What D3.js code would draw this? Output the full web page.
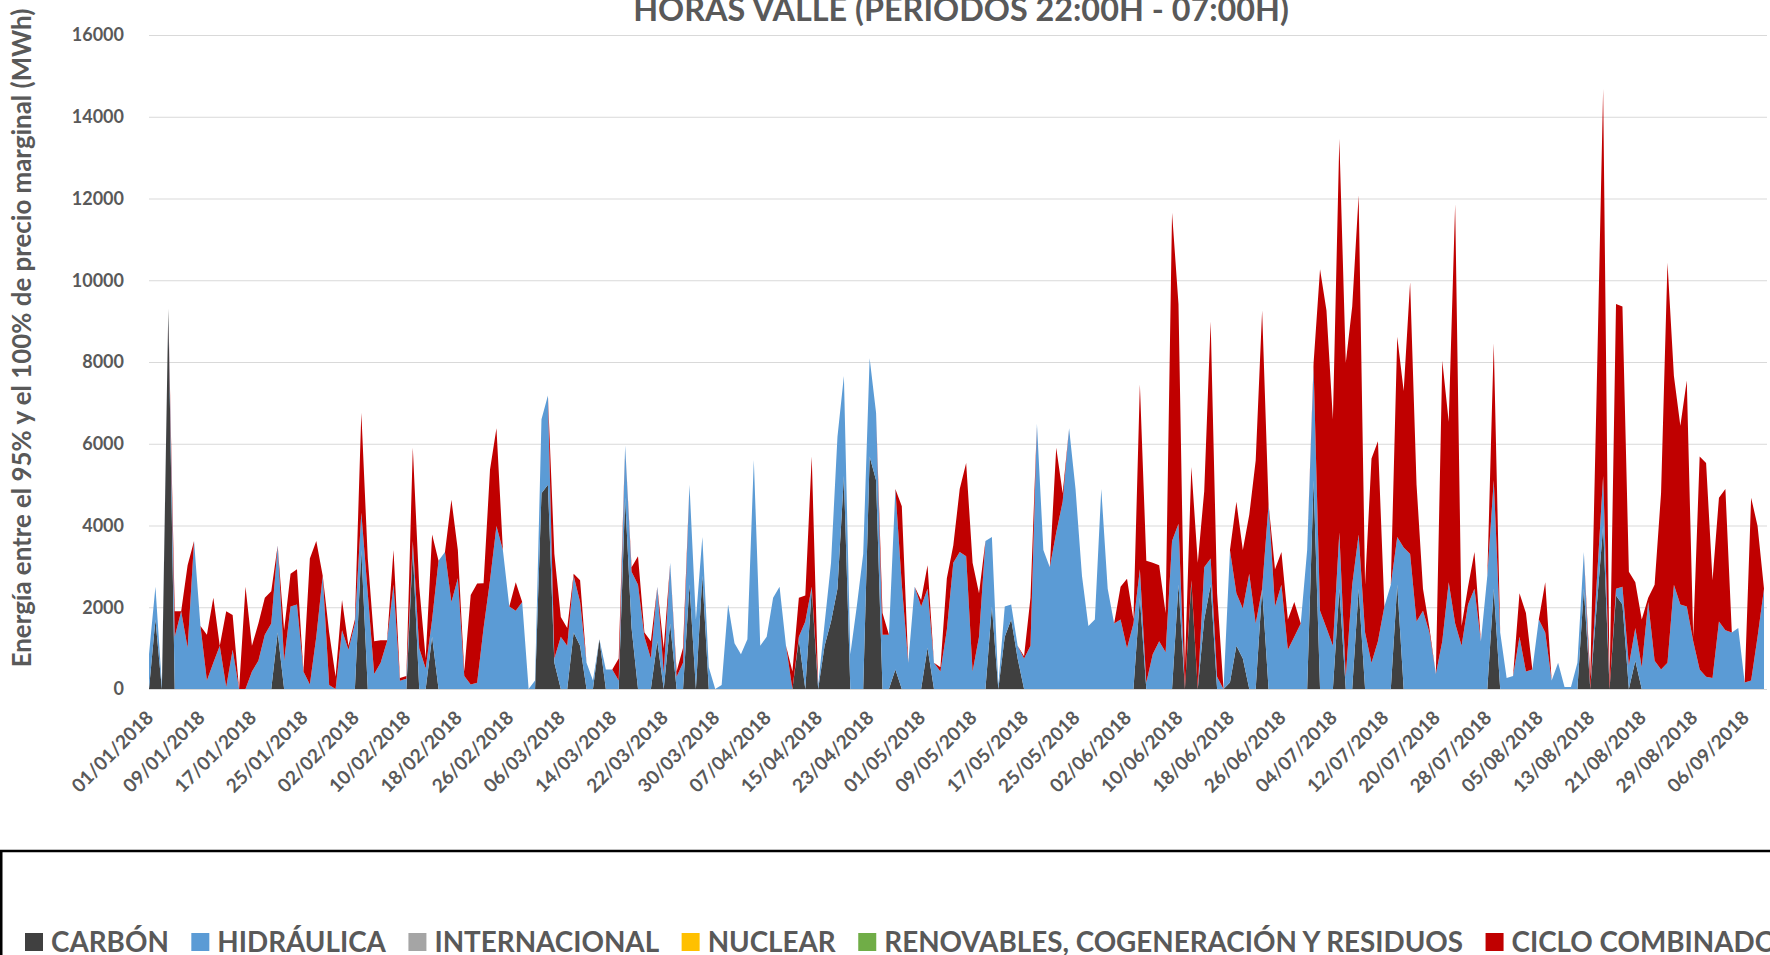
<!DOCTYPE html>
<html>
<head>
<meta charset="utf-8">
<script src="https://cdn.jsdelivr.net/npm/d3@7"></script>
<style>
	body { margin: 0; background: #fff; }
	svg text { font-family: Lato, 'Open Sans', sans-serif; font-weight: bold; fill: #595959; }
</style>
</head>
<body>
<svg class="chart" width="1770" height="955"></svg>
<script>
// daily values (MWh), 01/01/2018 onwards
var carbon = [
	0,1700,0,9300,0,0,0,0,0,0,
	0,0,0,0,0,0,0,0,0,0,
	1380,0,0,0,0,0,0,0,0,0,
	0,0,0,3400,0,0,0,0,0,0,
	0,3400,0,0,1280,0,0,0,0,0,
	0,0,0,0,0,0,0,0,0,0,
	0,4790,5000,640,0,0,1380,1060,0,0,
	1220,0,0,0,4680,1490,0,0,0,1170,
	0,1600,0,0,2550,0,2770,0,0,0,
	0,0,0,0,0,0,0,0,0,0,
	0,1220,0,2450,0,1060,1650,2450,5210,0,
	0,0,5690,5110,0,0,480,0,0,0,
	0,1010,0,0,0,0,0,0,0,0,
	0,2020,0,1280,1700,745,0,0,0,0,
	0,0,0,0,0,0,0,0,0,0,
	0,0,0,0,2230,0,0,0,0,0,
	2550,0,2610,0,1700,2550,0,0,160,1060,
	745,0,0,2450,0,0,0,0,0,0,
	0,5110,0,0,0,2450,0,0,2450,0,
	0,0,0,0,2550,0,0,0,0,0,
	0,0,0,0,0,0,0,0,0,2450,
	0,0,0,0,0,0,0,0,0,0,
	0,0,0,2450,0,2020,3990,0,2290,2070,
	0,690,0,0,0,0,0,0,0,0,
	0,0,0,0,0,0,0,0,0,0,
	0,0
];
var hidraulica = [
	850,800,100,0,1280,1900,1010,3620,1540,210,
	640,1060,50,960,0,0,430,690,1330,1600,
	2130,690,2020,2070,430,110,1280,2770,100,0,
	1440,960,1600,910,2340,370,640,1170,2550,200,
	250,220,1000,500,420,3140,3350,2130,2710,320,
	110,150,1490,2660,3990,3400,2020,1915,2130,0,
	210,1810,2180,105,1280,1060,1390,1070,640,210,
	0,480,480,210,1280,1380,2550,1280,745,1330,
	400,1490,300,640,2450,1700,950,530,0,100,
	2070,1120,850,1220,5600,1060,1280,2230,2500,1060,
	0,60,1650,50,100,540,1440,3720,2450,850,
	2020,3300,2400,1650,1330,1330,4410,2550,640,2500,
	2020,1440,640,430,1450,3090,3350,3250,430,1280,
	3620,1700,100,740,370,315,745,1060,6490,3400,
	2980,3830,4580,6380,4890,2770,1540,1700,4890,2450,
	1600,1700,1000,1600,700,160,850,1170,900,3620,
	1490,0,50,0,1280,640,300,0,3240,1280,
	1225,2820,1600,0,4520,2020,2550,960,1280,1600,
	3400,2760,1915,1490,1060,1380,300,2550,1330,1380,
	640,1170,2020,2550,1170,3460,3300,1650,1915,1380,
	370,1170,2610,1600,1060,2070,2450,1170,2770,2660,
	1380,270,320,1280,430,480,1700,1380,210,640,
	50,50,640,900,0,580,1220,0,160,430,
	580,800,530,2130,690,480,640,2550,2070,2020,
	1170,480,300,270,1650,1440,1380,1490,160,210,
	1280,2450
];
var internacional = [];
var nuclear = [];
var renovables = [];
var cicloCombinado = [
	0,0,0,0,620,0,2020,0,0,1120,
	1590,0,1850,850,0,2500,630,910,900,790,
	0,750,800,860,0,3080,2340,0,1280,300,
	740,100,100,2450,860,800,550,20,850,70,
	70,2280,1500,250,2080,0,0,2500,690,110,
	2190,2430,1100,2710,2390,0,0,695,0,0,
	0,0,0,2555,480,430,50,530,0,0,
	0,0,0,535,0,110,700,100,425,0,
	600,0,130,370,0,0,0,0,0,0,
	0,0,0,0,0,0,0,0,0,0,
	430,950,640,3190,0,0,0,0,0,0,
	0,0,0,0,530,0,0,1920,0,0,
	160,580,0,100,1260,420,1540,2280,2660,1060,
	0,0,0,0,0,0,55,1170,0,0,
	0,2070,210,0,0,0,0,0,0,0,
	0,800,1700,100,4520,2980,2240,1860,960,8030,
	5380,530,2770,3090,1860,5800,2040,0,0,2240,
	1430,1440,3990,6810,0,910,800,740,850,0,
	0,110,8355,7770,5540,9630,7680,6810,8300,1170,
	5000,4890,0,0,4900,3830,6650,3350,535,110,
	0,6860,3930,10260,480,430,900,0,0,3350,
	0,0,0,1060,1430,0,0,1230,0,0,
	0,0,0,0,300,4740,9470,100,6970,6860,
	2290,1120,1170,100,1860,4310,9790,5110,4370,5530,
	110,5210,5230,2390,3030,3450,0,0,0,4470,
	2710,0
];

var seriesKeys   = ['carbon','hidraulica','internacional','nuclear','renovables','cicloCombinado'];
var seriesNames  = ['CARBÓN','HIDRÁULICA','INTERNACIONAL','NUCLEAR','RENOVABLES, COGENERACIÓN Y RESIDUOS','CICLO COMBINADO'];
var seriesColors = ['#404040','#5b9bd5','#a5a5a5','#ffc000','#70ad47','#c00000'];
var seriesData   = [carbon, hidraulica, internacional, nuclear, renovables, cicloCombinado];

var yTicks = [0,2000,4000,6000,8000,10000,12000,14000,16000];
var labelEvery = 8;
var startDay = Date.UTC(2018, 0, 1);

var title  = 'HORAS VALLE (PERIODOS 22:00H - 07:00H)';
var yTitle = 'Energía entre el 95% y el 100% de precio marginal (MWh)';

var days = d3.utcDay.range(new Date(startDay), d3.utcDay.offset(new Date(startDay), carbon.length));

var rows = days.map(function(day, i) {
	var row = {date: day};
	seriesKeys.forEach(function(k, j) { row[k] = seriesData[j][i] || 0; });
	return row;
});

var plotLeft = 149, plotRight = 1764, plotTop = 35, plotBottom = 689, gridRight = 1767;

var svg = d3.select('svg.chart');

var x = d3.scaleUtc()
	.domain([days[0], days[days.length - 1]])
	.range([plotLeft, plotRight]);
var y = d3.scaleLinear()
	.domain([0, 16000])
	.range([plotBottom, plotTop]);

function fitWidth(sel, target) {
	var w = sel.node().getComputedTextLength();
	var fs = parseFloat(sel.style('font-size'));
	sel.style('font-size', (fs * target / w) + 'px');
}

// gridlines + y tick labels
var yAxis = svg.append('g')
	.attr('transform', 'translate(' + plotLeft + ',0)')
	.call(d3.axisLeft(y).tickValues(yTicks).tickSize(-(gridRight - plotLeft)).tickPadding(25).tickFormat(d3.format('d')));
yAxis.select('.domain').remove();
yAxis.selectAll('.tick line').attr('stroke', '#d9d9d9').attr('stroke-width', 1);
yAxis.selectAll('.tick text')
	.style('font-size', '18px')
	.style('font-family', 'Lato, sans-serif')
	.attr('fill', '#595959');

// stacked areas
var stack = d3.stack().keys(seriesKeys);
var layers = stack(rows);

var area = d3.area()
	.x(function(d) { return x(d.data.date); })
	.y0(function(d) { return y(d[0]); })
	.y1(function(d) { return y(d[1]); });

svg.append('g')
	.selectAll('path')
	.data(layers)
	.enter()
	.append('path')
	.attr('d', area)
	.attr('fill', function(d, i) { return seriesColors[i]; });

// x axis
var tickDays = days.filter(function(d, i) { return i % labelEvery === 0; });
var xAxis = svg.append('g')
	.attr('transform', 'translate(0,' + plotBottom + ')')
	.call(d3.axisBottom(x).tickValues(tickDays).tickSize(0).tickFormat(d3.utcFormat('%d/%m/%Y')));
xAxis.select('.domain')
	.attr('stroke', '#d9d9d9')
	.attr('d', 'M' + plotLeft + ',0.5H' + gridRight);
xAxis.selectAll('.tick text')
	.attr('text-anchor', 'end')
	.attr('x', 0)
	.attr('y', 0)
	.attr('dy', 0)
	.attr('transform', 'translate(5,30) rotate(-45)')
	.style('font-size', '19px')
	.style('font-family', 'Lato, sans-serif')
	.attr('fill', '#595959');

// title
var t = svg.append('text')
	.attr('x', 961)
	.attr('y', 21)
	.attr('text-anchor', 'middle')
	.style('font-size', '30px')
	.text(title);
fitWidth(t, 656);

// y axis title
var yt = svg.append('text')
	.attr('transform', 'translate(31,338) rotate(-90)')
	.attr('text-anchor', 'middle')
	.style('font-size', '23px')
	.text(yTitle);
fitWidth(yt, 659);

// legend box
svg.append('rect')
	.attr('x', 1.25)
	.attr('y', 851)
	.attr('width', 1800)
	.attr('height', 200)
	.attr('fill', 'none')
	.attr('stroke', '#000')
	.attr('stroke-width', 2.5);

var legend = svg.append('g').attr('class', 'legend');
var probe = legend.append('text').style('font-size', '30px').text(seriesNames[4]);
var legendSize = 30 * 579 / probe.node().getComputedTextLength();
probe.remove();

var lx = 25;
seriesNames.forEach(function(name, i) {
	legend.append('rect')
		.attr('x', lx)
		.attr('y', 933)
		.attr('width', 18)
		.attr('height', 18)
		.attr('fill', seriesColors[i]);
	var lbl = legend.append('text')
		.attr('x', lx + 26)
		.attr('y', 952)
		.style('font-size', legendSize + 'px')
		.text(name);
	lx += 26 + lbl.node().getComputedTextLength() + 22.5;
});
</script>
</body>
</html>
